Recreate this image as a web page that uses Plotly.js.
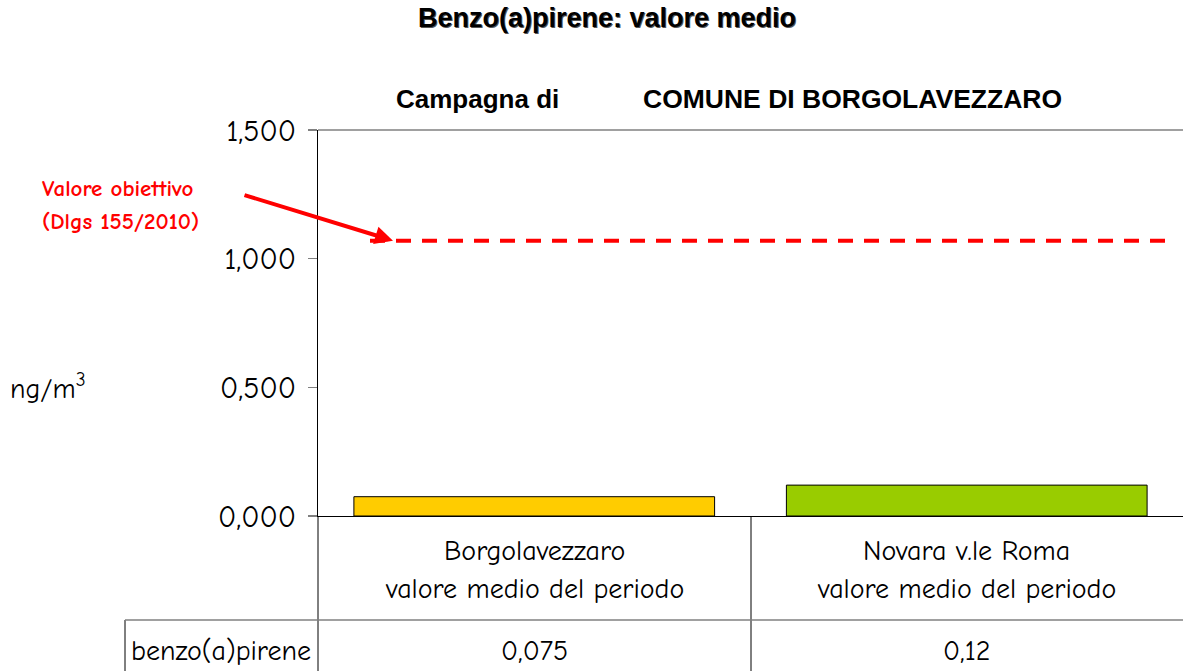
<!DOCTYPE html>
<html>
<head>
<meta charset="utf-8">
<script src="https://cdn.plot.ly/plotly-3.0.1.min.js"></script>
<style>
html,body{margin:0;padding:0;background:#fff;}
#chart{width:1183px;height:671px;}
</style>
</head>
<body>
<div id="chart"></div>
<script>
// ---- data ----
const categories = ['Borgolavezzaro', 'Novara v.le Roma'];
const categorySubLabels = ['valore medio del periodo', 'valore medio del periodo'];
const seriesName = 'benzo(a)pirene';
const values = [0.075, 0.12];
const barColors = ['#FFCC00', '#99CC00'];
const targetValue = 1.07;
const yTicks = [0, 0.5, 1.0, 1.5];
const chartTitle = 'Benzo(a)pirene: valore medio';
const subtitleLeft = 'Campagna di';
const subtitleRight = 'COMUNE DI BORGOLAVEZZARO';
const yUnit = 'ng/m<sup>3</sup>';
const targetLabel1 = 'Valore obiettivo';
const targetLabel2 = '(Dlgs 155/2010)';

// ---- layout helpers (pixel -> paper) ----
const W = 1183, H = 671;
const L = 318, R = 0, T = 130, B = 155;
const PW = W - L - R, PH = H - T - B;
const px = p => (p - L) / PW;
const py = p => (H - B - p) / PH;

const FONT = "'Comic Sans MS', 'Comic Neue', 'Open Sans', sans-serif";
const ARIAL = "Arial, 'Liberation Sans', sans-serif";

const trace = {
  type: 'bar',
  x: categories,
  y: values,
  name: seriesName,
  width: 0.834,
  marker: {color: barColors, line: {color: '#000', width: 1}},
  hoverinfo: 'x+y'
};

const shapes = [
  {type:'line', xref:'paper', yref:'paper', x0:0, x1:1, y0:1, y1:1, line:{color:'#808080', width:1.5}},
  {type:'line', xref:'paper', yref:'y', x0:px(370), x1:px(1167), y0:targetValue, y1:targetValue,
   line:{color:'#FF0000', width:4, dash:'15px,11px'}},
  {type:'line', xref:'paper', yref:'paper', x0:0, x1:0, y0:0, y1:py(671), line:{color:'#000', width:1}},
  {type:'line', xref:'paper', yref:'paper', x0:px(751), x1:px(751), y0:0, y1:py(671), line:{color:'#000', width:1}},
  {type:'line', xref:'paper', yref:'paper', x0:px(125), x1:px(125), y0:py(620), y1:py(671), line:{color:'#000', width:1}},
  {type:'line', xref:'paper', yref:'paper', x0:px(125), x1:1, y0:py(620), y1:py(620), line:{color:'#808080', width:1.5}}
];

const A = (o) => Object.assign({xref:'paper', yref:'paper', showarrow:false, yanchor:'middle', xanchor:'center'}, o);

const annotations = [
  A({text: chartTitle, x:px(607), y:py(18),
   font:{family:ARIAL, size:27, color:'#000', weight:900, shadow:'1px 1px 0px #555'}}),
  A({text: subtitleLeft, x:px(477), y:py(99),
   font:{family:ARIAL, size:26, color:'#000', weight:700}}),
  A({text: subtitleRight, x:px(852), y:py(99),
   font:{family:ARIAL, size:26.5, color:'#000', weight:700}}),
  A({text: yUnit, x:px(48), y:py(386),
   font:{family:FONT, size:28, color:'#000'}}),
  A({text: targetLabel1, x:px(40), y:py(188), xanchor:'left',
   font:{family:FONT, size:23, color:'#FF0000', weight:700}}),
  A({text: targetLabel2, x:px(40), y:py(221), xanchor:'left',
   font:{family:FONT, size:23, color:'#FF0000', weight:700}}),
  {text:'', xref:'paper', yref:'y', x:px(393), y:targetValue, ax:243-393, ay:195-241,
   showarrow:true, arrowcolor:'#FF0000', arrowwidth:4, arrowhead:2, arrowsize:0.9},
  A({text: seriesName, x:px(129), y:py(651), xanchor:'left',
   font:{family:FONT, size:28, color:'#000'}})
];
categories.forEach((c, i) => {
  annotations.push(A({text:c, xref:'x', x:c, y:py(551),
    font:{family:FONT, size:28, color:'#000'}}));
  annotations.push(A({text:categorySubLabels[i], xref:'x', x:c, y:py(589),
    font:{family:FONT, size:28, color:'#000'}}));
  annotations.push(A({text:String(values[i]).replace('.', ','), xref:'x', x:c, y:py(651),
    font:{family:FONT, size:28, color:'#000'}}));
});

const layout = {
  width: W, height: H,
  margin: {l:L, r:R, t:T, b:B, pad:0},
  paper_bgcolor:'#fff', plot_bgcolor:'#fff',
  separators: ',.',
  showlegend:false,
  xaxis: {range:[-0.5, 1.5], showticklabels:false, ticks:'', showgrid:false, zeroline:false,
          showline:true, linecolor:'#000', linewidth:1, fixedrange:true},
  yaxis: {range:[0, 1.5], tickvals:yTicks, tickformat:'.3f', ticks:'outside', ticklen:9,
          tickcolor:'#808080', tickwidth:1.5, showgrid:false, zeroline:false,
          showline:true, linecolor:'#000', linewidth:1, ticklabelstandoff:6,
          tickfont:{family:FONT, size:30, color:'#000'}, fixedrange:true},
  shapes: shapes,
  annotations: annotations
};

Plotly.newPlot('chart', [trace], layout, {displayModeBar:false, staticPlot:true});
</script>
</body>
</html>
